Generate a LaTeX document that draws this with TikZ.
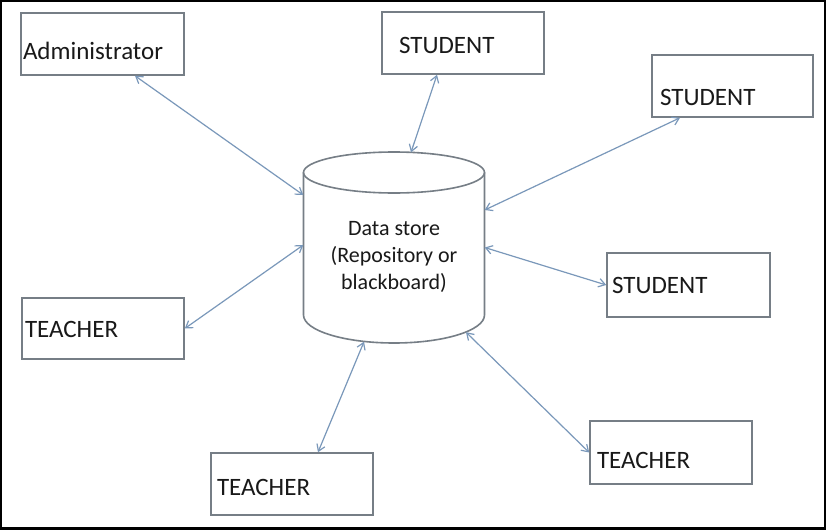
\documentclass[tikz,border=0pt]{standalone}
\usepackage{fontspec}
\setmainfont{Carlito}
\usetikzlibrary{arrows.meta,calc}
\definecolor{boxgray}{RGB}{118,126,134}
\definecolor{arrowblue}{RGB}{122,152,186}
\definecolor{txtcol}{RGB}{25,25,25}
\begin{document}
\begin{tikzpicture}[x=1pt,y=-1pt,
  boxnode/.style={draw=boxgray, line width=1.6pt, rectangle, inner ysep=0pt,
    align=left, text depth=0pt, font=\fontsize{25}{29}\selectfont, text=txtcol},
  storetxt/.style={align=center, inner sep=0pt, font=\fontsize{22}{27}\selectfont, text=txtcol},
  cylline/.style={draw=boxgray, line width=1.6pt},
  link/.style={draw=arrowblue, line width=1.2pt,
    arrows={Straight Barb[length=6.5pt,width=8.5pt]-Straight Barb[length=6.5pt,width=8.5pt]}}]
\useasboundingbox (0,0) rectangle (826,530);
\fill[white] (0,0) rectangle (826,530);
\draw[black, line width=1.5pt] (1,1) rectangle (825,528.5);
\draw[black, line width=3pt] (0,528.5) -- (826,528.5);

% boxes
\node[boxnode, minimum width=163pt, minimum height=62pt, inner xsep=2pt, text width=159pt, text height=30pt] (admin) at (102.5,44) {Administrator};
\node[boxnode, minimum width=162pt, minimum height=62pt, inner xsep=17pt, text width=128pt, text height=20pt] (stud1) at (463,43) {STUDENT};
\node[boxnode, minimum width=161pt, minimum height=62pt, inner xsep=8pt, text width=145pt, text height=38pt] (stud2) at (732.5,86) {STUDENT};
\node[boxnode, minimum width=163pt, minimum height=64pt, inner xsep=5pt, text width=153pt, text height=16pt] (stud3) at (688.5,285) {STUDENT};
\node[boxnode, minimum width=162pt, minimum height=61pt, inner xsep=3pt, text width=156pt, text height=17pt] (teachL) at (103,328.5) {TEACHER};
\node[boxnode, minimum width=162pt, minimum height=62pt, inner xsep=6pt, text width=150pt, text height=22pt] (teachB) at (292,484) {TEACHER};
\node[boxnode, minimum width=162pt, minimum height=63pt, inner xsep=7pt, text width=148pt, text height=31pt] (teachR) at (671,452.5) {TEACHER};

% data store cylinder
\node[minimum width=181pt, minimum height=191pt, inner sep=0pt] (store) at (394,247.5) {};
\draw[cylline] (394,172.5) ellipse [x radius=90.5, y radius=20.5];
\draw[cylline] (303.5,172.5) -- (303.5,315)
  arc[start angle=180, end angle=0, x radius=90.5, y radius=28] -- (484.5,172.5);
\node[storetxt] (storetext) at (394,257) {Data store\\(Repository or\\blackboard)};

% connectors
\draw[link] ($(admin.south)+(32.5,0)$) -- ($(store.west)+(0,-52.5)$);
\draw[link] ($(stud1.south)+(-26,0)$) -- ($(store.north)+(17,0.5)$);
\draw[link] ($(stud2.south)+(-52.5,0)$) -- ($(store.east)+(0,-37.5)$);
\draw[link] (stud3.west) -- (store.east);
\draw[link] (teachL.east) -- ($(store.west)+(0,-2.5)$);
\draw[link] ($(teachB.north)+(26,0)$) -- ($(store.south)+(-30,-1.5)$);
\draw[link] (teachR.west) -- ($(store.south)+(72,-11)$);
\end{tikzpicture}
\end{document}
